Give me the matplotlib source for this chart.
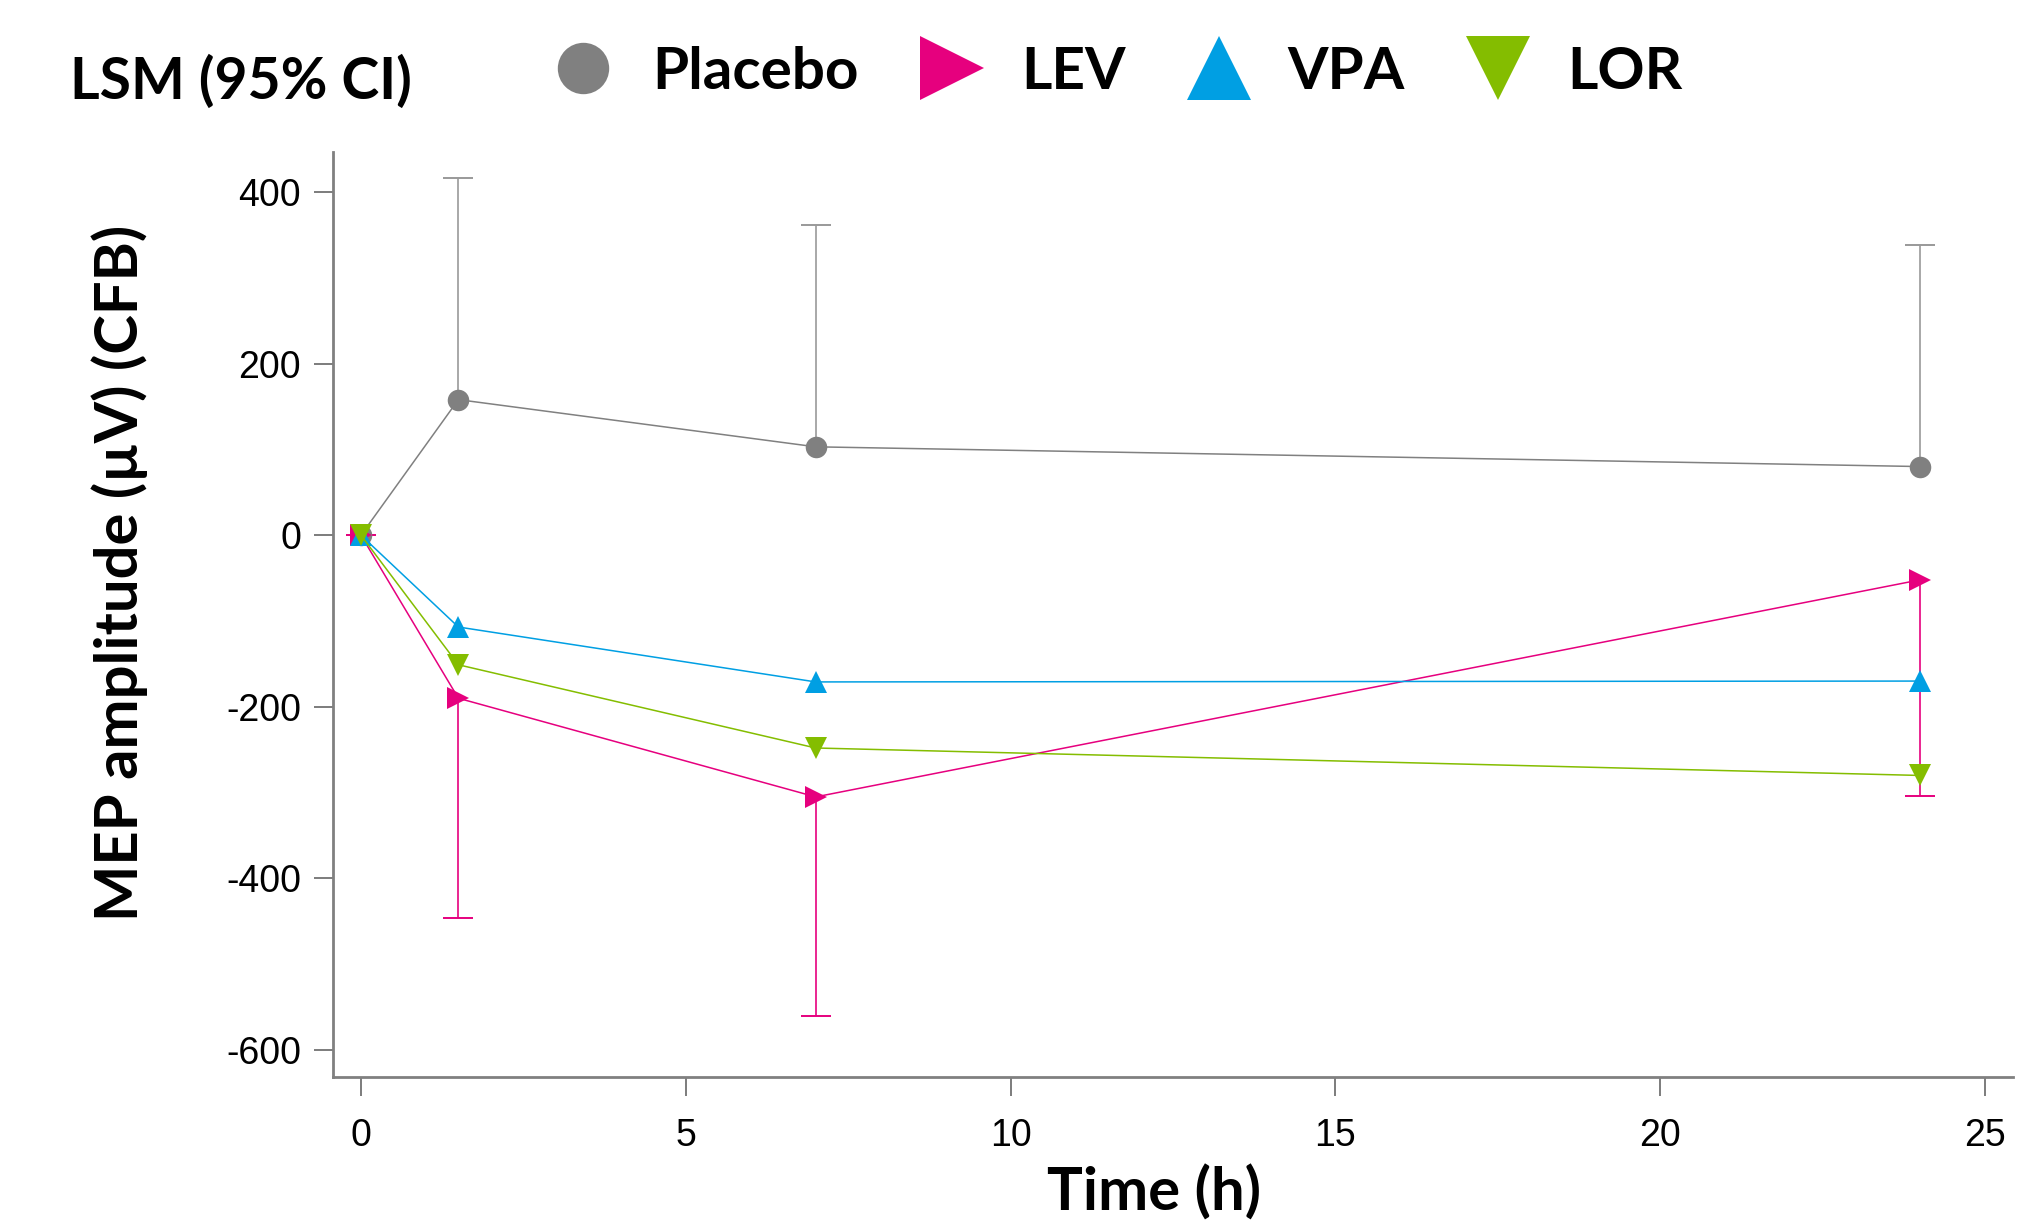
import matplotlib.pyplot as plt
from matplotlib.lines import Line2D

plt.rcParams['axes.unicode_minus'] = False
plt.rcParams['font.family'] = ['Liberation Sans', 'DejaVu Sans']

# LSM change from baseline by time point
times = [0, 1.5, 7, 24]
placebo = [0, 158, 103, 80]
placebo_upper = [0, 416, 361, 338]
lev = [0, -190, -305, -52]
lev_lower = [0, -446, -560, -304]
vpa = [0, -107, -171, -170]
lor = [0, -151, -248, -280]

groups = ['Placebo', 'LEV', 'VPA', 'LOR']
series = [placebo, lev, vpa, lor]
colors = {'Placebo': '#808080', 'LEV': '#E6007E', 'VPA': '#009FE3', 'LOR': '#84BD00'}
markers = {'Placebo': 'o', 'LEV': '>', 'VPA': '^', 'LOR': 'v'}

fig = plt.figure(figsize=(20.23, 12.24), dpi=100)
ax = fig.add_axes([0.1646, 0.1204, 0.8305, 0.7557])

# one-sided 95% CI whiskers
for mean, bound, name, c in [(placebo, placebo_upper, 'Placebo', '#999999'),
                             (lev, lev_lower, 'LEV', colors['LEV'])]:
    ax.vlines(times, mean, bound, color=c, lw=1.2, zorder=1)
    ax.plot(times, bound, ls='none', marker='_', ms=22, mew=1.4, color=c, zorder=1)

for i, (name, vals) in enumerate(zip(groups, series)):
    ax.plot(times, vals, color=colors[name], marker=markers[name], ms=15.5, mew=0,
            lw=1.1, zorder=2 + i)

ax.set_xlim(-0.43, 25.43)
ax.set_ylim(-631, 447)
ax.set_xticks([0, 5, 10, 15, 20, 25])
ax.set_yticks([-600, -400, -200, 0, 200, 400])

for side in ['top', 'right']:
    ax.spines[side].set_visible(False)
for side in ['left', 'bottom']:
    ax.spines[side].set_color('#808080')
    ax.spines[side].set_linewidth(2)

ax.tick_params(direction='out', length=14, width=1.2, color='#666666', labelsize=27)
ax.tick_params(axis='y', pad=9)
ax.tick_params(axis='x', pad=16)

label_font = {'family': 'Lato', 'weight': 'bold', 'size': 43}
ax.set_xlabel('Time (h)', **label_font)
ax.set_ylabel('MEP amplitude (µV) (CFB)', **label_font)
ax.xaxis.set_label_coords(0.489, -0.0955)
ax.yaxis.set_label_coords(-0.110, 0.545)

fig.text(70 / 2023, 1 - 82 / 1224, 'LSM (95% CI)', ha='left', va='center',
         family='Lato', weight='bold', fontsize=41)

handles = [Line2D([], [], ls='none', marker=markers[g], color=colors[g], mew=0,
                  ms=37 if g == 'Placebo' else 46) for g in groups]
fig.legend(handles, groups, ncol=4, loc='center left', bbox_to_anchor=(0.274, 0.941),
           frameon=False, prop={'family': 'Lato', 'weight': 'bold', 'size': 42},
           handlelength=1.0, handletextpad=0.68, columnspacing=1.1,
           borderpad=0, borderaxespad=0)

fig.savefig('out.png', dpi=100)
